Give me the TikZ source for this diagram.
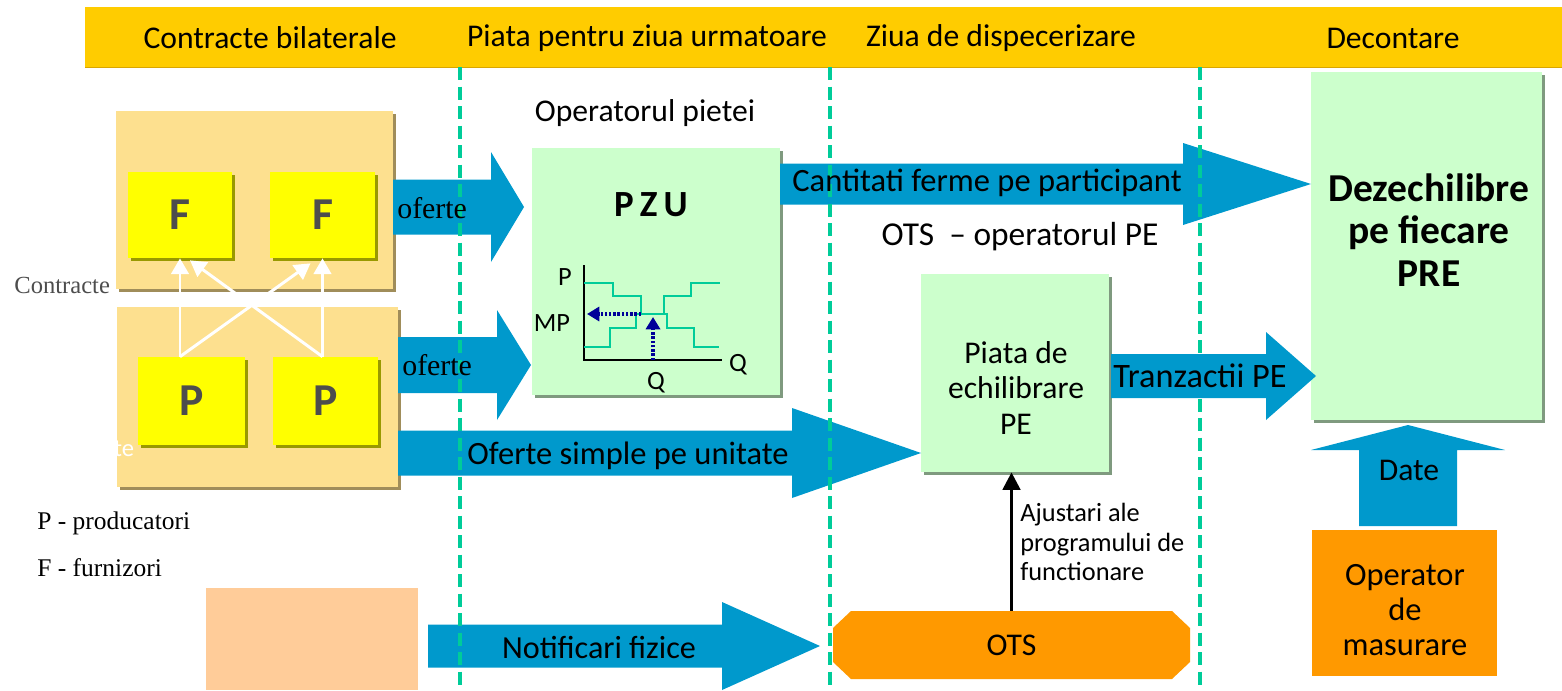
\documentclass[tikz,border=0pt]{standalone}
\usepackage{fontspec}
\setmainfont{Carlito}
\newfontfamily\serifface{Liberation Serif}
\usetikzlibrary{arrows.meta,fit,shadows,positioning}
\definecolor{bandyellow}{HTML}{FFCC00}
\definecolor{bandshadow}{HTML}{D9A600}
\definecolor{sandbox}{HTML}{FDE08F}
\definecolor{sandshadow}{HTML}{A08D5A}
\definecolor{partyyellow}{HTML}{FFFF00}
\definecolor{partyshadow}{HTML}{999900}
\definecolor{marketgreen}{HTML}{CCFFCC}
\definecolor{greenshadow}{HTML}{7F9A7F}
\definecolor{arrowblue}{HTML}{0099CC}
\definecolor{otsorange}{HTML}{FF9900}
\definecolor{peach}{HTML}{FFCC99}
\definecolor{lanegreen}{HTML}{00CC99}
\definecolor{pricenavy}{HTML}{000099}
\definecolor{labelgrey}{HTML}{4D4D4D}
\tikzset{
    band/.style = {fill=bandyellow, inner sep=0pt, drop shadow={shadow xshift=0pt, shadow yshift=-0.8pt, opacity=1, fill=bandshadow}},
    band-title/.style = {font=\fontsize{18}{21}\selectfont},
    container/.style = {fill=sandbox, inner sep=0pt, drop shadow={shadow xshift=1.6pt, shadow yshift=-1.6pt, opacity=1, fill=sandshadow}},
    party-box/.style = {fill=partyyellow, inner sep=0pt, drop shadow={shadow xshift=1.6pt, shadow yshift=-1.6pt, opacity=1, fill=partyshadow}},
    party-letter/.style = {text=labelgrey, font=\bfseries\fontsize{26}{28}\selectfont, inner sep=0pt},
    market-box/.style = {fill=marketgreen, inner sep=0pt, drop shadow={shadow xshift=1.8pt, shadow yshift=-1.8pt, opacity=1, fill=greenshadow}},
    plain-text/.style = {font=\fontsize{18}{20}\selectfont, align=center, inner sep=0pt},
    small-text/.style = {font=\fontsize{14}{17}\selectfont, align=left, inner sep=0pt},
    serif-text/.style = {font=\serifface\fontsize{14}{16}\selectfont, inner sep=0pt},
    title-text/.style = {font=\bfseries\fontsize{22.5}{24}\selectfont, align=center, inner sep=0pt},
    lane-line/.style = {lanegreen, line width=2.1pt, dash pattern=on 7.5pt off 3.6pt},
    contract-arrow/.style = {white, line width=1.7pt, -{Triangle[length=9pt, width=10pt]}},
    adjust-arrow/.style = {black, line width=1.8pt, -{Triangle[length=10pt, width=10pt]}},
    step-line/.style = {lanegreen, line width=1.5pt},
    price-arrow/.style = {pricenavy, line width=2pt, dash pattern=on 1.4pt off 1pt, -{Triangle[length=7pt, width=8pt]}},
}
% body start, head start, tip, centre, half body, half head
\newcommand{\bigarrow}[6]{\fill[arrowblue] (#1,#4-#5) -- (#2,#4-#5) -- (#2,#4-#6) -- (#3,#4) -- (#2,#4+#6) -- (#2,#4+#5) -- (#1,#4+#5) -- cycle;}

\begin{document}
\begin{tikzpicture}[x=0.02cm, y=-0.02cm]
\useasboundingbox (0,0) rectangle (1562,690);

% header band
\node[band, fit={(85,7) (1562,67)}] (band) {};
\node[band-title] (lane1) at (270,38) {Contracte bilaterale};
\node[band-title] (lane2) at (647,38) {Piata pentru ziua urmatoare};
\node[band-title] (lane3) at (1001,38) {Ziua de dispecerizare};
\node[band-title] (lane4) at (1393,38) {Decontare};

% bilateral contracts
\node[container, fit={(116,111) (393,289)}] (upper) {};
\node[container, fit={(117,307) (398,487)}] (lower) {};
\node[party-box, fit={(128,172) (232,258)}] (f1) {};
\node[party-box, fit={(270,172) (375,258)}] (f2) {};
\node[party-box, fit={(138,357) (245,445)}] (p1) {};
\node[party-box, fit={(273,357) (378,445)}] (p2) {};
\node[party-letter] at (f1.center) {F};
\node[party-letter] at (f2.center) {F};
\node[party-letter] at (p1.center) {P};
\node[party-letter] at (p2.center) {P};
\coordinate (p1top) at (f1.south |- p1.north);
\coordinate (p2top) at (f2.south |- p2.north);
\draw[contract-arrow] (p1top) -- (f1.south);
\draw[contract-arrow] (p2top) -- (f2.south);
\draw[contract-arrow] (p1top) -- ([xshift=-0.24cm, yshift=-0.1cm]f2.south);
\draw[contract-arrow] (p2top) -- ([xshift=0.2cm, yshift=-0.04cm]f1.south);
\node[serif-text, text=labelgrey, anchor=west] (contr) at (14,285) {Contracte};
\node[small-text, text=white] (cut) at (124,449) {te};
\node[serif-text, font=\serifface\fontsize{14.5}{16}\selectfont, anchor=west] (legp) at (37,523) {P - producatori};
\node[serif-text, font=\serifface\fontsize{14.5}{16}\selectfont, anchor=west] (legf) at (37,568) {F - furnizori};
\node[fill=peach, inner sep=0pt, fit={(206,588) (418,690)}] (blank) {};

% day-ahead market
\node[plain-text] (opm) at (645,113) {Operatorul pietei};
\node[market-box, fit={(532,148) (780,395)}] (pzu) {};
\node[title-text, font=\bfseries\fontsize{21}{24}\selectfont] (pzut) at (651,205) {P\,Z\,U};
\draw[black, line width=1.3pt] (584,265) -- (584,360) -- (722,360);
\draw[step-line] (584,283) -| (613,296) -| (641,314) -| (667,328) -| (694,347) -- (719,347);
\draw[step-line] (584,347) -| (610,328) -| (636,314) -| (664,296) -| (691,283) -- (720,283);
\draw[price-arrow] (641,314) -- (587,314);
\draw[price-arrow] (653,360) -- (653,317);
\node[small-text, font=\fontsize{15}{17}\selectfont] (axp) at (565,277) {P};
\node[small-text, font=\fontsize{15}{17}\selectfont] (axmp) at (552,323) {MP};
\node[small-text, font=\fontsize{15}{17}\selectfont] (axq) at (738,365) {Q};
\node[small-text, font=\fontsize{15}{17}\selectfont] (axq2) at (656,383) {Q};

% balancing market
\node[plain-text, font=\fontsize{19}{20}\selectfont] (otsop) at (1020,237) {OTS \ -- operatorul PE};
\node[market-box, fit={(921,274) (1109,472)}] (pe) {};
\node[plain-text, font=\fontsize{18}{20}\selectfont] (pet) at (1016,388) {Piata de\\echilibrare\\PE};
\fill[otsorange] (833,628) -- (851,611) -- (1172,611) -- (1190,628) -- (1190,662) -- (1172,679) -- (851,679) -- (833,662) -- cycle;
\node[inner sep=0pt, fit={(833,611) (1190,679)}] (ots) {};
\node[plain-text] (otst) at (ots.center) {OTS};
\draw[adjust-arrow] (ots.north) -- (ots.north |- pe.south);
\node[small-text, font=\fontsize{15}{17}\selectfont, anchor=west] (adj) at (1020,542) {Ajustari ale\\programului de\\functionare};

% settlement
\node[market-box, fit={(1311,72) (1542,420)}] (settle) {};
\node[title-text] (settlet) at (1429,230) {Dezechilibre\\pe fiecare\\PRE};
\node[fill=otsorange, inner sep=0pt, fit={(1312,530) (1497,676)}] (meter) {};
\node[plain-text, font=\fontsize{18.5}{19.8}\selectfont] (metert) at (1405,610) {Operator\\de\\masurare};

% block arrows
\bigarrow{393}{491}{524}{207}{27.5}{55}
\bigarrow{398}{497}{531}{365}{28}{55}
\bigarrow{398}{792}{921}{453}{22.5}{45}
\bigarrow{780}{1183}{1311}{184}{20.5}{41}
\bigarrow{428}{722}{820}{646}{21.5}{44}
\fill[arrowblue] (1359,526) -- (1359,450) -- (1311,450) -- (1408,425) -- (1505,450) -- (1457,450) -- (1457,526) -- cycle;
\foreach \x in {460,830,1200}
    \draw[lane-line] (\x,67) -- (\x,690);
\bigarrow{1111}{1266}{1316}{376}{22}{44}

\node[serif-text, font=\serifface\fontsize{17}{18}\selectfont, anchor=west] (of1) at (397,208) {oferte};
\node[serif-text, font=\serifface\fontsize{17}{18}\selectfont, anchor=west] (of2) at (402,365) {oferte};
\node[plain-text, font=\fontsize{18.5}{20}\selectfont] (simple) at (628,456) {Oferte simple pe unitate};
\node[plain-text, font=\fontsize{18.5}{20}\selectfont] (firm) at (987,183) {Cantitati ferme pe participant};
\node[plain-text, font=\fontsize{19.5}{20}\selectfont] (tranz) at (1200,376) {Tranzactii PE};
\node[plain-text, font=\fontsize{18.3}{20}\selectfont] (notif) at (599,647) {Notificari fizice};
\node[plain-text] (date) at (1409,470) {Date};
\end{tikzpicture}
\end{document}
